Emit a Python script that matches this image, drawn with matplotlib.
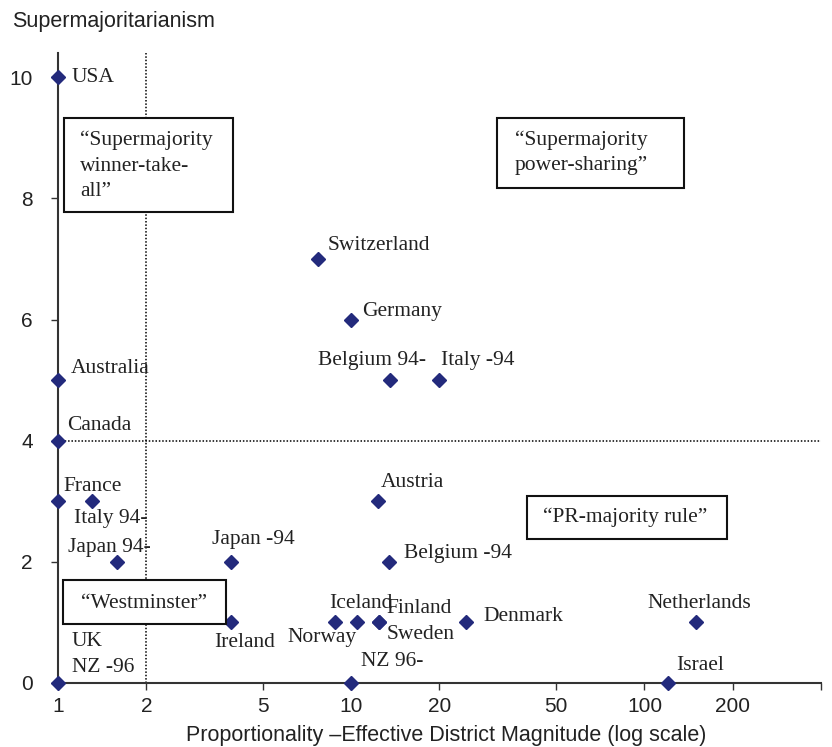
import matplotlib
matplotlib.use("Agg")
import matplotlib.pyplot as plt
from matplotlib.patches import Rectangle

# countries: effective district magnitude vs supermajoritarianism score
countries = ["USA", "Switzerland", "Germany", "Belgium 94-", "Italy -94",
             "Australia", "Canada", "France", "Italy 94-", "Japan 94-",
             "Japan -94", "Austria", "Belgium -94", "Ireland", "Iceland",
             "Norway", "Finland", "Sweden", "Denmark", "Netherlands",
             "Israel", "NZ 96-", "UK\nNZ -96"]
magnitude = [1, 7.7, 10, 13.6, 20,
             1, 1, 1, 1.31, 1.59,
             3.9, 12.3, 13.5, 3.9, 10.5,
             8.8, 12.4, 12.4, 24.7, 150,
             120, 10, 1]
supermaj = [10, 7, 6, 5, 5,
            5, 4, 3, 3, 2,
            2, 3, 2, 1, 1,
            1, 1, 1, 1, 1,
            0, 0, 0]
# label offsets in pixels (dx, dy)
offsets = [(14, 0), (10, 13), (11, 8), (-72, 20), (2, 20),
           (13, 12), (9, 15), (5, 15), (-18, -17), (-49, 14),
           (-19, 22), (3, 19), (15, 8), (-17, -20), (-28, 19),
           (-48, -15), (8, 14), (8, -12), (17, 6), (-49, 19),
           (8, 18), (10, 22), (14, 29)]

xticks = [1, 2, 5, 10, 20, 50, 100, 200, 400]
xticklabels = ["1", "2", "5", "10", "20", "50", "100", "200", ""]
yticks = [0, 2, 4, 6, 8, 10]

sans = "Liberation Sans"
serif = "Liberation Serif"
navy = "#232a7c"
ink = "#222222"

W, H = 832, 747
fig = plt.figure(figsize=(W / 100, H / 100), dpi=100)
ax = fig.add_axes([58 / W, 64 / H, 763 / W, 630 / H])

ax.set_xscale("log")
ax.set_xlim(1, 400)
ax.set_ylim(0, 10.4)

ax.axvline(2, color="black", ls=(0, (1, 1.2)), lw=1.1, zorder=1)
ax.axhline(4, color="black", ls=(0, (1, 1.2)), lw=1.1, zorder=1)

ax.plot(magnitude, supermaj, ls="none", marker="D", ms=6.8,
        color=navy, clip_on=False, zorder=5)

for name, x, y, (dx, dy) in zip(countries, magnitude, supermaj, offsets):
    ax.annotate(name, (x, y), xytext=(dx, dy), textcoords="offset pixels",
                ha="left", va="center", fontsize=15.5, family=serif,
                color=ink, linespacing=1.5, zorder=6)

for s in ["top", "right"]:
    ax.spines[s].set_visible(False)
for s in ["left", "bottom"]:
    ax.spines[s].set_color("#333333")
    ax.spines[s].set_linewidth(1.5)

ax.set_xticks(xticks)
ax.set_xticklabels(xticklabels)
ax.minorticks_off()
ax.set_yticks(yticks)
ax.tick_params(axis="x", direction="out", length=5, width=1, color="#333333",
               pad=5, labelsize=15, labelcolor=ink)
ax.tick_params(axis="y", direction="out", length=5, width=1, color="#333333",
               pad=13, labelsize=15, labelcolor=ink)
for lab in ax.get_xticklabels() + ax.get_yticklabels():
    lab.set_family(sans)

fig.text(12 / W, 1 - 22 / H, "Supermajoritarianism", family=sans,
         fontsize=15.5, color=ink, ha="left", va="center")
fig.text(446 / W, 1 - 735 / H,
         "Proportionality \u2013Effective District Magnitude (log scale)",
         family=sans, fontsize=15.5, color=ink, ha="center", va="center")

# quadrant boxes: (x0, y0, x1, y1) in pixels, text left, text centre y
boxes = [
    ("\u201cSupermajority\nwinner-take-\nall\u201d", (64, 118, 233, 212), 80, 166),
    ("\u201cSupermajority\npower-sharing\u201d", (497, 118, 684, 188), 515, 153),
    ("\u201cPR-majority rule\u201d", (527, 496, 727, 539), 543, 517),
    ("\u201cWestminster\u201d", (63, 580, 226, 624), 81, 603),
]
for text, (x0, y0, x1, y1), tx, ty in boxes:
    fig.patches.append(Rectangle((x0 / W, 1 - y1 / H), (x1 - x0) / W,
                                 (y1 - y0) / H, transform=fig.transFigure,
                                 facecolor="white", edgecolor="#111111",
                                 lw=1.5, zorder=3))
    fig.text(tx / W, 1 - ty / H, text, family=serif, fontsize=15.5,
             color=ink, ha="left", va="center", linespacing=1.45, zorder=4)

fig.savefig("out.png", dpi=100)
